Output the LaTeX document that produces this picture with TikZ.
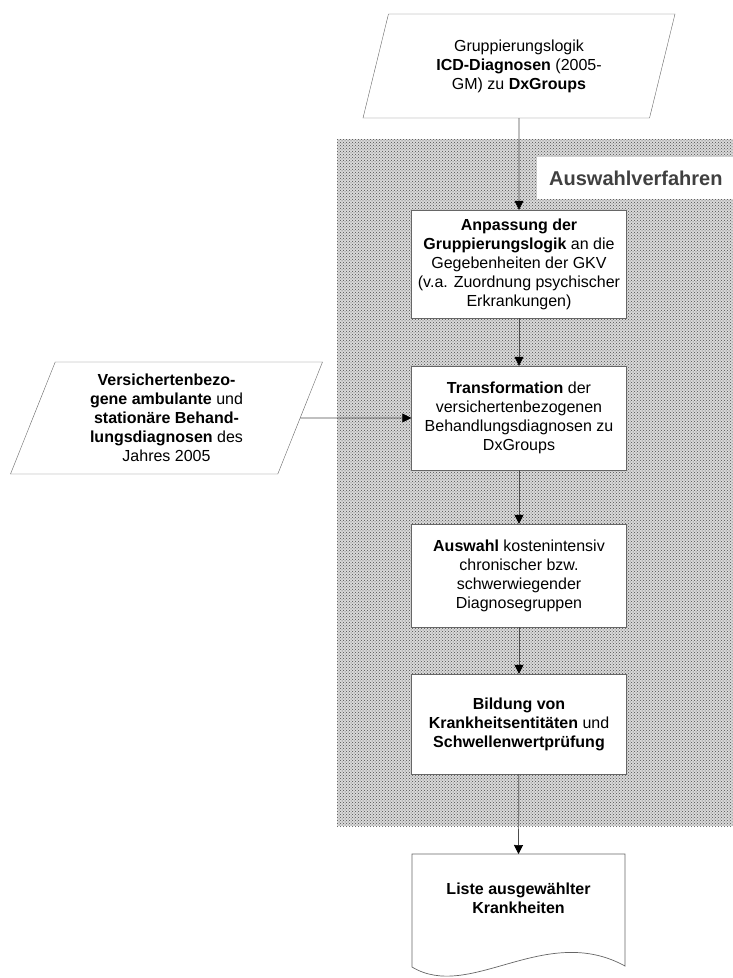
\documentclass[tikz,border=0pt]{standalone}
\usepackage{fontspec}
\setmainfont{Liberation Sans}
\usetikzlibrary{shapes.geometric,arrows.meta,patterns}

\begin{document}
\begin{tikzpicture}[x=1pt,y=-1pt,
    font=\fontsize{16}{19}\selectfont,
    proc/.style={draw=black!60, fill=white, minimum width=215pt, align=center, inner sep=2pt},
    datain/.style={trapezium, trapezium stretches body, draw=black!60, fill=white,
        align=center, inner sep=0pt, minimum width=312pt},
    flow/.style={draw=black!70, line width=0.7pt, -{Triangle[length=9pt,width=9pt,color=black]}}]
    \useasboundingbox (0,0) rectangle (733,978);
    \def\bx{519}

    % Auswahlverfahren (gerastert)
    \fill[gray!30] (337,139) rectangle (745,826);
    \fill[pattern=crosshatch dots, pattern color=black!70] (337,139) rectangle (745,826);
    \node[fill=white, anchor=west, inner xsep=12pt, minimum height=42pt, text=black!75,
        font=\bfseries\fontsize{20}{24}\selectfont] (verf) at (537,178) {Auswahlverfahren};

    % Eingaben
    \node[datain, trapezium left angle=64.3, trapezium right angle=115.7, minimum height=104pt]
        (grp) at (\bx,66) {Gruppierungslogik\\\textbf{ICD-Diagnosen} (2005-\\GM) zu \textbf{DxGroups}};
    \node[datain, trapezium left angle=63, trapezium right angle=117, minimum height=112pt]
        (vers) at (166.5,418) {\textbf{Versichertenbezo-}\\\textbf{gene ambulante} und\\\textbf{station\"are Behand-}\\\textbf{lungsdiagnosen} des\\Jahres 2005};

    % Schritte
    \node[proc, minimum height=108pt] (anp) at (\bx,264)
        {\textbf{Anpassung der}\\\textbf{Gruppierungslogik} an die\\Gegebenheiten der GKV\\(v.a. Zuordnung psychischer\\Erkrankungen)};
    \node[proc, minimum height=104pt] (trans) at (\bx,418)
        {\textbf{Transformation} der\\versichertenbezogenen\\Behandlungsdiagnosen zu\\DxGroups};
    \node[proc, minimum height=103pt] (ausw) at (\bx,575.5)
        {\textbf{Auswahl} kostenintensiv\\chronischer bzw.\\schwerwiegender\\Diagnosegruppen};
    \node[proc, minimum height=100pt] (bild) at (\bx,724)
        {\textbf{Bildung von}\\\textbf{Krankheitsentit\"aten} und\\\textbf{Schwellenwertpr\"ufung}};

    % Ergebnis (Dokument)
    \fill[white] (412,854) -- (625,854) -- (625,966) .. controls (545,922) and (470,1002) .. (412,967) -- cycle;
    \draw[black!60, line width=0.7pt] (412,854) -- (625,854) -- (625,966) .. controls (545,922) and (470,1002) .. (412,967) -- cycle;
    \coordinate (listetop) at (518.5,854);
    \node[align=center, font=\bfseries\fontsize{16}{19}\selectfont] (liste) at (518.5,898) {Liste ausgew\"ahlter\\Krankheiten};

    \draw[flow] (grp.south) -- (anp.north);
    \draw[flow] (anp) -- (trans);
    \draw[flow] (trans) -- (ausw);
    \draw[flow] (ausw) -- (bild);
    \draw[flow] (bild) -- (listetop);
    \draw[flow] (vers.east) -- (trans.west);
\end{tikzpicture}
\end{document}
